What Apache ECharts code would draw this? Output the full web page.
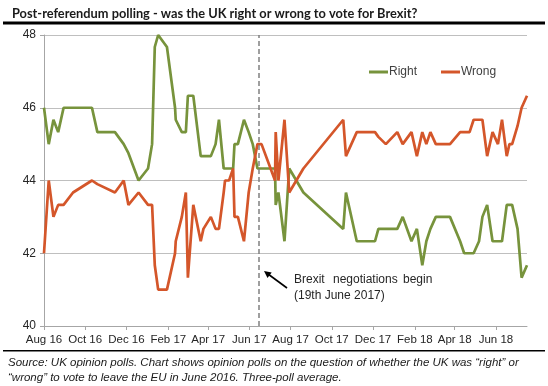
<!DOCTYPE html>
<html>
<head>
<meta charset="utf-8">
<script src="https://cdn.jsdelivr.net/npm/echarts@6/dist/echarts.min.js"></script>
<style>
html,body{margin:0;padding:0;background:#fff;}
#c{width:548px;height:386px;}
</style>
</head>
<body>
<div id="c"></div>
<script>
const dates = ['2016-08-01','2016-08-08','2016-08-15','2016-08-22','2016-08-30','2016-09-13','2016-10-11','2016-10-19','2016-11-14','2016-11-27','2016-12-04','2016-12-19','2017-01-02','2017-01-08','2017-01-12','2017-01-17','2017-01-30','2017-02-11','2017-02-12','2017-02-21','2017-02-27','2017-03-02','2017-03-10','2017-03-21','2017-03-25','2017-04-05','2017-04-12','2017-04-17','2017-04-24','2017-04-26','2017-05-02','2017-05-08','2017-05-10','2017-05-15','2017-05-24','2017-05-31','2017-06-06','2017-06-13','2017-06-19','2017-07-09','2017-07-10','2017-07-14','2017-07-23','2017-07-30','2017-08-20','2017-10-18','2017-10-22','2017-11-07','2017-12-04','2017-12-09','2017-12-20','2018-01-06','2018-01-14','2018-01-27','2018-02-04','2018-02-12','2018-02-18','2018-02-24','2018-03-04','2018-03-25','2018-04-09','2018-04-15','2018-04-23','2018-04-29','2018-05-07','2018-05-12','2018-05-19','2018-05-27','2018-06-04','2018-06-10','2018-06-17','2018-06-21','2018-06-25','2018-07-03','2018-07-09','2018-07-17'];

const rightValues = [46,45,45.67,45.33,46,46,46,45.33,45.33,45,44.75,44,44.33,45,47.67,48,47.67,46,45.67,45.33,45.33,46.33,46.33,44.67,44.67,44.67,45,45.67,44.33,44.33,44.33,44.33,45,45,45.67,45.33,45,44.33,44.33,44.33,43.33,43.67,42.33,44.33,43.67,42.67,43.67,42.33,42.33,42.67,42.67,42.67,43,42.33,42.67,41.67,42.33,42.67,43,43,42.33,42,42,42,42.33,43,43.33,42.33,42.33,42.33,43.33,43.33,43.33,42.67,41.33,41.67];

const wrongValues = [42,44,43,43.33,43.33,43.67,44,43.9,43.67,44,43.33,43.67,43.33,43.33,41.67,41,41,42,42.33,43,43.67,41.33,43.33,42.33,42.67,43,42.67,42.67,43.67,44,44,44.33,43,43,42.33,43.67,44.33,45,45,44,45.33,44,45.67,43.67,44.33,45.67,44.67,45.33,45.33,45.2,45,45.33,45,45.33,44.67,45.33,45,45.33,45,45,45.33,45.33,45.33,45.67,45.67,45.67,44.67,45.33,45,45.67,44.67,45,45,45.5,46,46.33];

const tickDates = ['2016-08-01','2016-10-01','2016-12-01','2017-02-01','2017-04-01','2017-06-01','2017-08-01','2017-10-01','2017-12-01','2018-02-01','2018-04-01','2018-06-01'];
const tickLabels = ['Aug 16','Oct 16','Dec 16','Feb 17','Apr 17','Jun 17','Aug 17','Oct 17','Dec 17','Feb 18','Apr 18','Jun 18'];

const axisStart = '2016-08-01';
const axisEnd = '2018-07-17';
const negotiationsLine = '2017-06-15';

const seriesNames = ['Right','Wrong'];
const seriesColors = ['#77933c','#d4562a'];

const ts = d => Date.parse(d);
const tickTs = tickDates.map(ts);

const chart = echarts.init(document.getElementById('c'), null, {renderer:'canvas'});
const FONT = 'Liberation Sans';

chart.setOption({
  animation:false,
  backgroundColor:'#fff',
  title:{
    text:'Post-referendum polling - was the UK right or wrong to vote for Brexit?',
    left:7, top:2,
    textStyle:{fontFamily:'Lato',fontSize:12.8,fontWeight:'bold',color:'#1a1a1a'}
  },
  legend:{
    data:seriesNames,
    left:369, top:66, padding:0,
    icon:'rect', itemWidth:19, itemHeight:3, itemGap:24,
    textStyle:{fontFamily:FONT,fontSize:12,color:'#404040',padding:[0,0,0,-4]}
  },
  grid:{left:44,right:21,top:35,bottom:60,containLabel:false},
  xAxis:{
    type:'value',
    min:ts(axisStart), max:ts(axisEnd),
    splitLine:{show:false},
    axisLine:{show:true,lineStyle:{color:'#a6a6a6',width:1}},
    axisTick:{show:true,customValues:tickTs,length:4,lineStyle:{color:'#a6a6a6'}},
    axisLabel:{
      customValues:tickTs, margin:8,
      fontFamily:FONT,fontSize:11.5,color:'#262626',
      formatter:v=>{const i=tickTs.indexOf(v);return i>=0?tickLabels[i]:'';}
    }
  },
  yAxis:{
    type:'value', min:40, max:48, interval:2,
    axisLine:{show:true,lineStyle:{color:'#a6a6a6',width:1}},
    axisTick:{show:true,length:4,lineStyle:{color:'#a6a6a6'}},
    splitLine:{show:true,lineStyle:{color:'#bfbfbf',width:1}},
    axisLabel:{margin:8,fontFamily:FONT,fontSize:12,color:'#262626'}
  },
  series:[
    {
      name:seriesNames[0], type:'line', showSymbol:false, symbol:'none',
      data:dates.map((d,i)=>[ts(d),rightValues[i]]),
      lineStyle:{color:seriesColors[0],width:2.7}, itemStyle:{color:seriesColors[0]},
      z:3,
      markLine:{
        symbol:'none', silent:true, animation:false,
        label:{show:false},
        lineStyle:{type:[5,3],color:'#808080',width:1.5},
        data:[{xAxis:ts(negotiationsLine)}]
      }
    },
    {
      name:seriesNames[1], type:'line', showSymbol:false, symbol:'none',
      data:dates.map((d,i)=>[ts(d),wrongValues[i]]),
      lineStyle:{color:seriesColors[1],width:2.7}, itemStyle:{color:seriesColors[1]},
      z:4
    }
  ],
  graphic:[
    {type:'rect',shape:{x:3,y:21.5,width:542,height:3},style:{fill:'#000'}},
    {type:'rect',shape:{x:3,y:350,width:542,height:1.5},style:{fill:'#000'}},
    {type:'line',shape:{x1:287,y1:288,x2:268,y2:274},style:{stroke:'#000',lineWidth:1.6}},
    {type:'polygon',shape:{points:[[264,271],[271.7,272.4],[267.5,278]]},style:{fill:'#000'}},
    {type:'text',x:294,y:280,style:{text:'Brexit',fontFamily:FONT,fontSize:12,fill:'#262626',verticalAlign:'middle'}},
    {type:'text',x:333,y:280,style:{text:'negotiations',fontFamily:FONT,fontSize:12,fill:'#262626',verticalAlign:'middle'}},
    {type:'text',x:403,y:280,style:{text:'begin',fontFamily:FONT,fontSize:12,fill:'#262626',verticalAlign:'middle'}},
    {type:'text',x:294,y:296,style:{text:'(19th June 2017)',fontFamily:FONT,fontSize:12,fill:'#262626',verticalAlign:'middle'}},
    {type:'text',x:8,y:363,style:{text:'Source: UK opinion polls. Chart shows opinion polls on the question of whether the UK was \u201cright\u201d or',fontFamily:FONT,fontSize:11.5,fontStyle:'italic',fill:'#1a1a1a',verticalAlign:'middle'}},
    {type:'text',x:8,y:378,style:{text:'\u201cwrong\u201d to vote to leave the EU in June 2016. Three-poll average.',fontFamily:FONT,fontSize:11.5,fontStyle:'italic',fill:'#1a1a1a',verticalAlign:'middle'}}
  ]
});
</script>
</body>
</html>
